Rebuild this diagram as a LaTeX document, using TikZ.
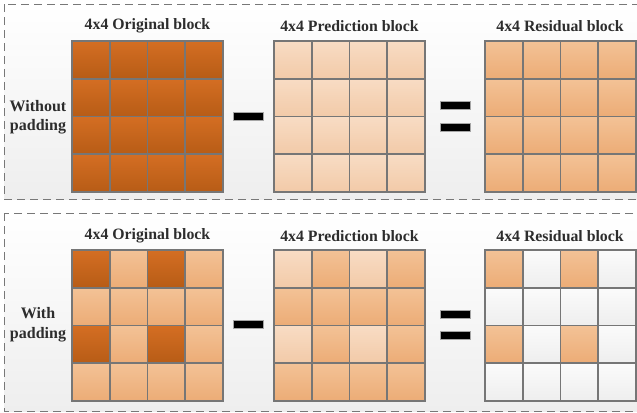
\documentclass[tikz,border=0pt]{standalone}
\usepackage{fontspec}
\setmainfont{Liberation Serif}
\definecolor{dkT}{RGB}{212,110,35}
\definecolor{dkB}{RGB}{183,92,22}
\definecolor{mdT}{RGB}{243,194,150}
\definecolor{mdB}{RGB}{236,172,118}
\definecolor{ltT}{RGB}{248,220,196}
\definecolor{ltB}{RGB}{242,202,168}
\definecolor{wT}{RGB}{251,251,251}
\definecolor{wB}{RGB}{238,238,238}
\definecolor{gridgray}{RGB}{118,118,118}
\definecolor{framegray}{RGB}{120,120,120}
\definecolor{txt}{RGB}{45,45,45}
\newcommand{\blockgrid}[4]{%
  \foreach \s [count=\k from 0] in {#4} {
    \pgfmathtruncatemacro\rr{div(\k,4)}
    \pgfmathtruncatemacro\cc{mod(\k,4)}
    \node[cell,\s] (#1-\rr-\cc) at ({#2+(\cc+0.5)*37.75},{#3+(\rr+0.5)*37.75}) {};
  }
  \foreach \rr in {0,...,3} {
    \foreach \cc in {0,...,3} {
      \draw[gridline] (#1-\rr-\cc.south west) rectangle (#1-\rr-\cc.north east);
    }
  }}
\tikzset{
  cell/.style={minimum width=37.75bp, minimum height=37.75bp, inner sep=0pt, outer sep=0pt},
  gridline/.style={draw=gridgray, line width=1.7bp},
  cD/.style={top color=dkT, bottom color=dkB},
  cM/.style={top color=mdT, bottom color=mdB},
  cL/.style={top color=ltT, bottom color=ltB},
  cW/.style={top color=wT, bottom color=wB},
  frame/.style={draw=framegray, line width=1bp, dash pattern=on 8bp off 5bp, top color=white, bottom color=wB},
  title/.style={font=\fontsize{15.8bp}{17bp}\selectfont\bfseries, text=txt, inner sep=0pt},
  side/.style={font=\fontsize{16bp}{19.5bp}\selectfont\bfseries, text=txt, align=center, inner sep=0pt},
  bar/.style={fill=black, draw=gray!70, line width=0.8bp, minimum width=30bp, minimum height=7.5bp, inner sep=0pt},
}
\begin{document}
\begin{tikzpicture}[x=1bp, y=-1bp]
\useasboundingbox (0,0) rectangle (637,412);
% frames
\path[frame] (4,4) rectangle (660,199);
\path[frame] (4,213) rectangle (660,411);
% top row
\node[title] (t1) at (147.5,26) {4x4 Original block};
\node[title] (t2) at (349.5,26) {4x4 Prediction block};
\node[title] (t3) at (560,26) {4x4 Residual block};
\node[side] (s1) at (38,117) {Without\\padding};
\blockgrid{ta}{72}{41}{cD,cD,cD,cD,cD,cD,cD,cD,cD,cD,cD,cD,cD,cD,cD,cD}
\blockgrid{tb}{274}{41}{cL,cL,cL,cL,cL,cL,cL,cL,cL,cL,cL,cL,cL,cL,cL,cL}
\blockgrid{tc}{485}{41}{cM,cM,cM,cM,cM,cM,cM,cM,cM,cM,cM,cM,cM,cM,cM,cM}
\node[bar] (tm) at (248,116.5) {};
\node[bar, minimum height=8bp] (te1) at (455.5,105) {};
\node[bar, minimum height=8bp] (te2) at (455.5,127.5) {};
% bottom row
\node[title] (b1) at (147.5,236) {4x4 Original block};
\node[title] (b2) at (349.5,236) {4x4 Prediction block};
\node[title] (b3) at (560,236) {4x4 Residual block};
\node[side] (s2) at (38,324.5) {With\\padding};
\blockgrid{ba}{72}{250}{cD,cM,cD,cM,cM,cM,cM,cM,cD,cM,cD,cM,cM,cM,cM,cM}
\blockgrid{bb}{274}{250}{cL,cM,cL,cM,cM,cM,cM,cM,cL,cM,cL,cM,cM,cM,cM,cM}
\blockgrid{bc}{485}{250}{cM,cW,cM,cW,cW,cW,cW,cW,cM,cW,cM,cW,cW,cW,cW,cW}
\node[bar] (bm) at (248,324.5) {};
\node[bar, minimum height=8bp] (be1) at (455.5,314) {};
\node[bar, minimum height=8bp] (be2) at (455.5,335.5) {};
\end{tikzpicture}
\end{document}
